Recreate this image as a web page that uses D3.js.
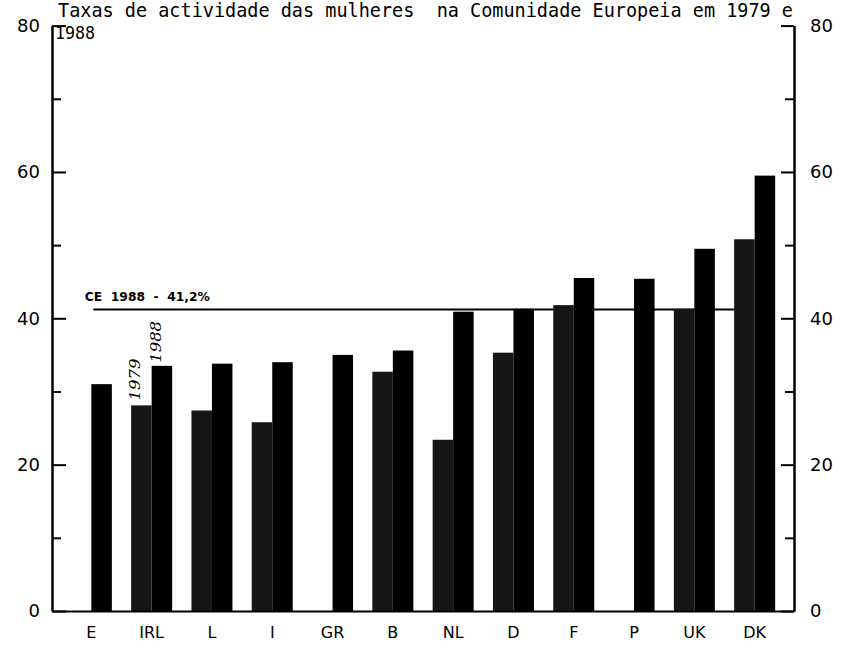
<!DOCTYPE html>
<html>
<head>
<meta charset="utf-8">
<script src="https://cdn.jsdelivr.net/npm/d3@7"></script>
<style>
  html, body { margin: 0; padding: 0; background: #fff; }
  svg { display: block; }
</style>
</head>
<body>
<svg id="chart" width="848" height="651"></svg>
<script>
// ---- data ----
const categories = ["E", "IRL", "L", "I", "GR", "B", "NL", "D", "F", "P", "UK", "DK"];
const series = ["1979", "1988"];
const values1979 = [null, 28.1, 27.4, 25.8, null, 32.7, 23.4, 35.3, 41.8, null, 41.3, 50.8];
const values1988 = [31.0, 33.5, 33.8, 34.0, 35.0, 35.6, 40.9, 41.3, 45.5, 45.4, 49.5, 59.5];
const majorTicks = [0, 20, 40, 60, 80];
const minorTicks = [10, 30, 50, 70];
const refValue = 41.2;
const refLabel = "CE  1988  -  41,2%";
const titleLine1 = "Taxas de actividade das mulheres  na Comunidade Europeia em 1979 e";
const titleLine2 = "1988";

// ---- layout ----
const svg = d3.select("#chart");
const left = 52, right = 794, yTop = 25.6, yBase = 611;

const x = d3.scaleBand().domain(categories).range([left, right])
  .paddingInner(0.32).paddingOuter(0.3125);
const xi = d3.scaleBand().domain(series).range([0, x.bandwidth()]).padding(0);
const y = d3.scaleLinear().domain([0, 80]).range([yBase, yTop]);

const rows = categories.map((c, i) => ({ cat: c, v: { "1979": values1979[i], "1988": values1988[i] } }));

// reference line (behind bars)
svg.append("line")
  .attr("x1", x("E") + xi("1988") + 2)
  .attr("x2", x("DK") + xi("1979") + 10)
  .attr("y1", y(refValue)).attr("y2", y(refValue))
  .attr("stroke", "#000").attr("stroke-width", 2);

svg.append("text")
  .attr("x", x("E") + 14).attr("y", y(refValue) - 9)
  .attr("font-family", "DejaVu Sans, sans-serif")
  .attr("font-size", 12.5).attr("font-weight", "bold")
  .attr("textLength", 125).attr("lengthAdjust", "spacingAndGlyphs")
  .style("white-space", "pre")
  .text(refLabel);

// bars
const g = svg.append("g");
rows.forEach(r => {
  series.forEach(s => {
    const v = r.v[s];
    if (v == null) return;
    g.append("rect")
      .attr("x", x(r.cat) + xi(s))
      .attr("y", y(v))
      .attr("width", xi.bandwidth())
      .attr("height", y(0) - y(v))
      .attr("fill", s === "1979" ? "#161616" : "#000");
  });
});

// axes
const fontAxis = "DejaVu Sans, sans-serif";
const leftAxis = svg.append("g").attr("transform", `translate(${left},0)`)
  .call(d3.axisLeft(y).tickValues(majorTicks).tickSize(-14).tickSizeOuter(0).tickPadding(12).tickFormat(d3.format("d")));
const leftMinor = svg.append("g").attr("transform", `translate(${left},0)`)
  .call(d3.axisLeft(y).tickValues(minorTicks).tickSize(-9).tickSizeOuter(0).tickFormat(""));
const rightAxis = svg.append("g").attr("transform", `translate(${right},0)`)
  .call(d3.axisRight(y).tickValues(majorTicks).tickSize(-13).tickSizeOuter(0).tickPadding(16).tickFormat(d3.format("d")));
const rightMinor = svg.append("g").attr("transform", `translate(${right},0)`)
  .call(d3.axisRight(y).tickValues(minorTicks).tickSize(-9).tickSizeOuter(0).tickFormat(""));

[leftAxis, leftMinor, rightAxis, rightMinor].forEach(a => {
  a.selectAll("path.domain").attr("stroke", "#000").attr("stroke-width", 2);
  a.selectAll(".tick line").attr("stroke", "#000").attr("stroke-width", 2);
  a.selectAll("text").attr("font-family", fontAxis).attr("font-size", 18).attr("fill", "#000");
});

// baseline / x axis
const xAxis = svg.append("g").attr("transform", `translate(0,${yBase})`)
  .call(d3.axisBottom(x).tickSize(0).tickPadding(16));
xAxis.select("path.domain").attr("stroke", "#000").attr("stroke-width", 2);
xAxis.selectAll("text").attr("font-family", fontAxis).attr("font-size", 16).attr("fill", "#000");

// handwritten year labels above IRL bars
const hand = "DejaVu Serif, serif";
[["1979", values1979[1], 5], ["1988", values1988[1], 3]].forEach(([s, v, gap]) => {
  const cx = x("IRL") + xi(s) + xi.bandwidth() / 2;
  svg.append("text")
    .attr("transform", `translate(${cx - 1},${y(v) - gap}) rotate(-90)`)
    .attr("font-family", hand).attr("font-style", "italic")
    .attr("font-size", 15)
    .attr("textLength", 42).attr("lengthAdjust", "spacingAndGlyphs")
    .text(s);
});

// title
svg.append("text").attr("x", 58).attr("y", 17)
  .attr("font-family", "DejaVu Sans Mono, monospace").attr("font-size", 19)
  .attr("textLength", 735).attr("lengthAdjust", "spacingAndGlyphs")
  .style("white-space", "pre")
  .text(titleLine1);
svg.append("text").attr("x", 55).attr("y", 39)
  .attr("font-family", "DejaVu Sans Mono, monospace").attr("font-size", 18)
  .attr("textLength", 40).attr("lengthAdjust", "spacingAndGlyphs")
  .text(titleLine2);
</script>
</body>
</html>
